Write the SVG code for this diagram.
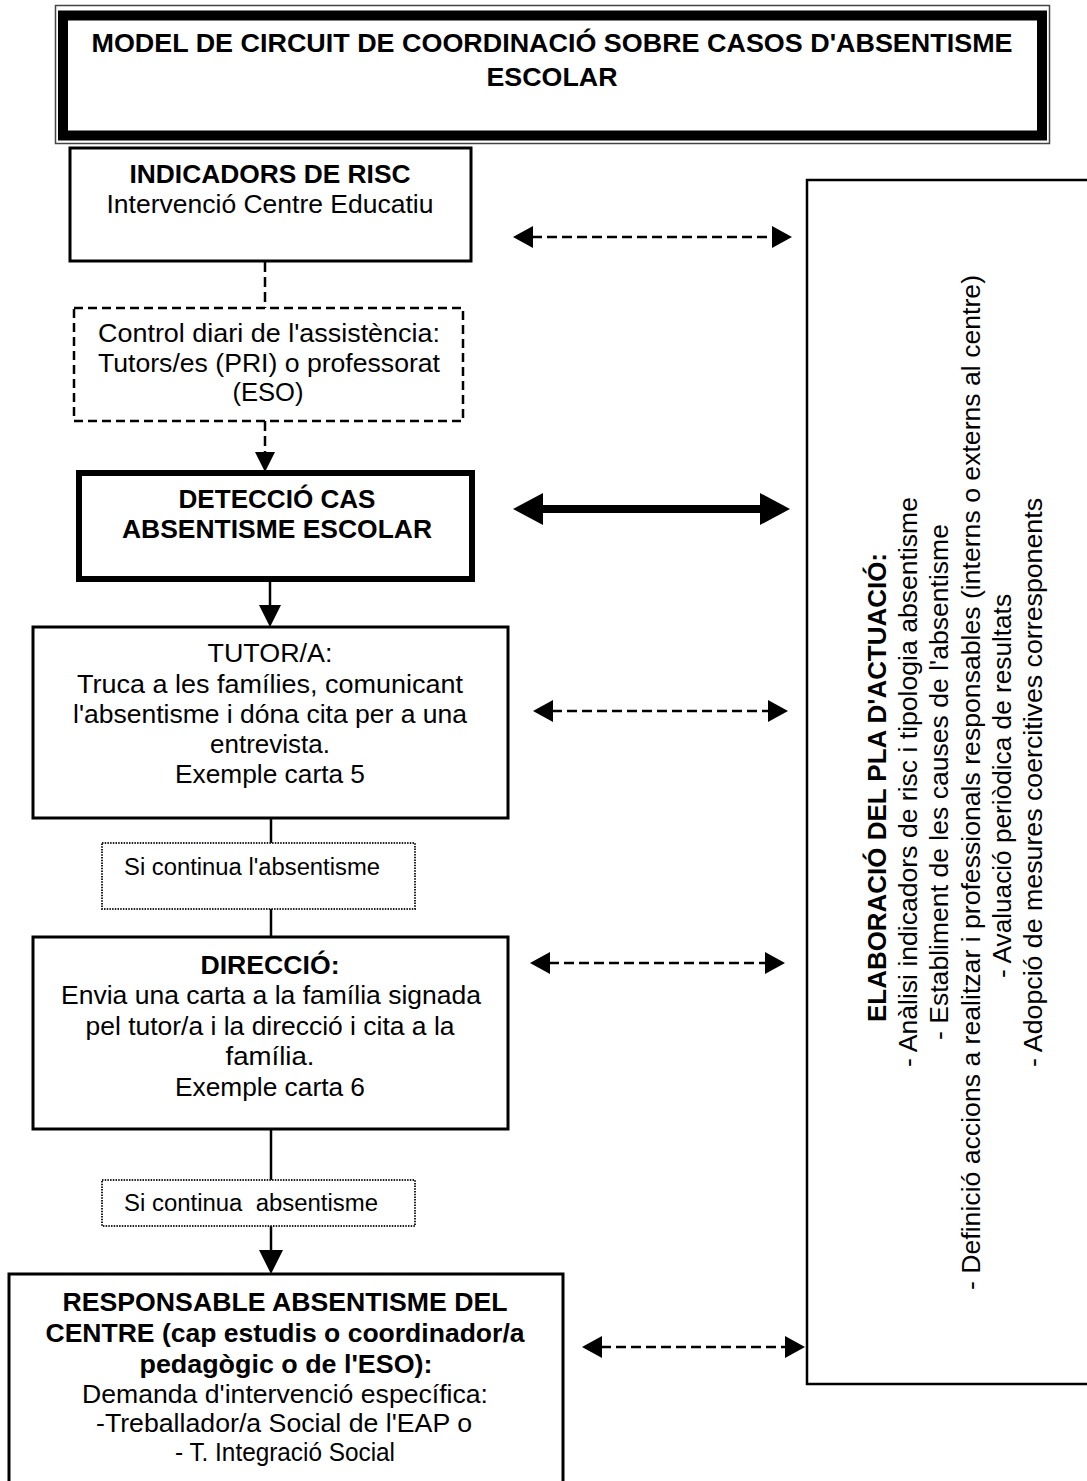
<svg xmlns="http://www.w3.org/2000/svg" width="1087" height="1481" viewBox="0 0 1087 1481">
<style>
  text { font-family: "Liberation Sans", Arial, sans-serif; fill: #000; }
  .t { font-size: 25px; text-anchor: middle; }
  .b { font-size: 25px; font-weight: bold; text-anchor: middle; }
  .s { font-size: 23px; }
  .v { font-size: 25px; }
  .vb { font-size: 25px; font-weight: bold; }
  .box { fill: #fff; stroke: #000; stroke-width: 3; }
  .dash { fill: none; stroke: #000; stroke-width: 2.5; stroke-dasharray: 9 5; }
  .dot { fill: #fff; stroke: #222; stroke-width: 2; stroke-dasharray: 1.5 1.2; }
  .ln { stroke: #000; stroke-width: 2.5; fill: none; }
  .dl { stroke: #000; stroke-width: 2.5; fill: none; stroke-dasharray: 10 5; }
  .hd { fill: #000; stroke: none; }
</style>
<rect width="1087" height="1481" fill="#fff"/>

<g id="connectors">
  <line class="dl" x1="265" y1="262" x2="265" y2="308"/>
  <line class="dl" x1="265" y1="421" x2="265" y2="453"/>
  <polygon class="hd" points="255,452 275,452 265,472"/>
  <line class="ln" x1="270" y1="579" x2="270" y2="606"/>
  <polygon class="hd" points="259,605 281,605 270,627"/>
  <line class="ln" x1="271" y1="818" x2="271" y2="843"/>
  <line class="ln" x1="271" y1="909" x2="271" y2="937"/>
  <line class="ln" x1="271" y1="1129" x2="271" y2="1180"/>
  <line class="ln" x1="271" y1="1226" x2="271" y2="1251"/>
  <polygon class="hd" points="259,1250 283,1250 271,1274"/>

  <line class="dl" x1="532" y1="237" x2="773" y2="237"/>
  <polygon class="hd" points="513,237 533,226 533,248"/>
  <polygon class="hd" points="792,237 772,226 772,248"/>

  <line stroke="#000" stroke-width="8" x1="540" y1="509" x2="763" y2="509"/>
  <polygon class="hd" points="513,509 543,493 543,525"/>
  <polygon class="hd" points="790,509 760,493 760,525"/>

  <line class="dl" x1="552" y1="711" x2="769" y2="711"/>
  <polygon class="hd" points="533,711 553,700 553,722"/>
  <polygon class="hd" points="788,711 768,700 768,722"/>

  <line class="dl" x1="549" y1="963" x2="766" y2="963"/>
  <polygon class="hd" points="530,963 550,952 550,974"/>
  <polygon class="hd" points="785,963 765,952 765,974"/>

  <line class="dl" x1="601" y1="1347" x2="786" y2="1347"/>
  <polygon class="hd" points="582,1347 602,1336 602,1358"/>
  <polygon class="hd" points="805,1347 785,1336 785,1358"/>
</g>

<g id="title">
  <rect x="55.5" y="5.5" width="994" height="138" fill="#fff" stroke="#444" stroke-width="1.5"/>
  <rect x="63" y="15.5" width="979" height="120" fill="none" stroke="#000" stroke-width="10"/>
  <text class="b" x="552" y="52" font-size="26" textLength="921" lengthAdjust="spacingAndGlyphs">MODEL DE CIRCUIT DE COORDINACIÓ SOBRE CASOS D'ABSENTISME</text>
  <text class="b" x="552" y="86" font-size="26" textLength="131" lengthAdjust="spacingAndGlyphs">ESCOLAR</text>
</g>

<g id="indicadors">
  <rect class="box" x="70" y="148" width="401" height="113"/>
  <text class="b" x="270" y="183" textLength="281" lengthAdjust="spacingAndGlyphs">INDICADORS DE RISC</text>
  <text class="t" x="270" y="213" textLength="327" lengthAdjust="spacingAndGlyphs">Intervenció Centre Educatiu</text>
</g>

<g id="control">
  <rect class="dash" x="74" y="308" width="389" height="113" fill="#fff"/>
  <text class="t" x="269" y="342" textLength="342" lengthAdjust="spacingAndGlyphs">Control diari de l'assistència:</text>
  <text class="t" x="269" y="372" textLength="342" lengthAdjust="spacingAndGlyphs">Tutors/es (PRI) o professorat</text>
  <text class="t" x="268" y="401" textLength="71" lengthAdjust="spacingAndGlyphs">(ESO)</text>
</g>

<g id="deteccio">
  <rect x="79" y="473" width="393" height="106" fill="#fff" stroke="#000" stroke-width="6"/>
  <text class="b" x="277" y="508" textLength="197" lengthAdjust="spacingAndGlyphs">DETECCIÓ CAS</text>
  <text class="b" x="277" y="538" textLength="310" lengthAdjust="spacingAndGlyphs">ABSENTISME ESCOLAR</text>
</g>

<g id="tutor">
  <rect class="box" x="33" y="627" width="475" height="191"/>
  <text class="t" x="270" y="662" textLength="125" lengthAdjust="spacingAndGlyphs">TUTOR/A:</text>
  <text class="t" x="270" y="693" textLength="386" lengthAdjust="spacingAndGlyphs">Truca a les famílies, comunicant</text>
  <text class="t" x="270" y="723" textLength="394" lengthAdjust="spacingAndGlyphs">l'absentisme i dóna cita per a una</text>
  <text class="t" x="270" y="753" textLength="120" lengthAdjust="spacingAndGlyphs">entrevista.</text>
  <text class="t" x="270" y="783" textLength="190" lengthAdjust="spacingAndGlyphs">Exemple carta 5</text>
</g>

<g id="si-continua-1">
  <rect class="dot" x="102" y="843" width="313" height="66"/>
  <text class="s" x="124" y="875" textLength="256" lengthAdjust="spacingAndGlyphs">Si continua l'absentisme</text>
</g>

<g id="direccio">
  <rect class="box" x="33" y="937" width="475" height="192"/>
  <text class="b" x="270" y="974" textLength="139" lengthAdjust="spacingAndGlyphs">DIRECCIÓ:</text>
  <text class="t" x="271" y="1004" textLength="420" lengthAdjust="spacingAndGlyphs">Envia una carta a la família signada</text>
  <text class="t" x="270" y="1035" textLength="369" lengthAdjust="spacingAndGlyphs">pel tutor/a i la direcció i cita a la</text>
  <text class="t" x="270" y="1065" textLength="89" lengthAdjust="spacingAndGlyphs">família.</text>
  <text class="t" x="270" y="1096" textLength="190" lengthAdjust="spacingAndGlyphs">Exemple carta 6</text>
</g>

<g id="si-continua-2">
  <rect class="dot" x="102" y="1180" width="313" height="46"/>
  <text class="s" x="124" y="1211" style="white-space:pre" textLength="254" lengthAdjust="spacingAndGlyphs">Si continua  absentisme</text>
</g>

<g id="responsable">
  <rect class="box" x="9" y="1274" width="554" height="220"/>
  <text class="b" x="285" y="1311" textLength="445" lengthAdjust="spacingAndGlyphs">RESPONSABLE ABSENTISME DEL</text>
  <text class="b" x="285" y="1342" textLength="479" lengthAdjust="spacingAndGlyphs">CENTRE (cap estudis o coordinador/a</text>
  <text class="b" x="286" y="1373" textLength="293" lengthAdjust="spacingAndGlyphs">pedagògic o de l'ESO):</text>
  <text class="t" x="285" y="1403" textLength="406" lengthAdjust="spacingAndGlyphs">Demanda d'intervenció específica:</text>
  <text class="t" x="284" y="1432" textLength="376" lengthAdjust="spacingAndGlyphs">-Treballador/a Social de l'EAP o</text>
  <text class="t" x="285" y="1461" font-size="21" textLength="220" lengthAdjust="spacingAndGlyphs">- T. Integració Social</text>
</g>

<g id="pla-actuacio">
  <rect x="807" y="180" width="300" height="1204" fill="#fff" stroke="#000" stroke-width="2.5"/>
  <text class="vb" transform="translate(886,1022) rotate(-90)" textLength="469" lengthAdjust="spacingAndGlyphs">ELABORACIÓ DEL PLA D'ACTUACIÓ:</text>
  <text class="v" transform="translate(917,1067) rotate(-90)" textLength="570" lengthAdjust="spacingAndGlyphs">- Anàlisi indicadors de risc i tipologia absentisme</text>
  <text class="v" transform="translate(948,1040) rotate(-90)" textLength="516" lengthAdjust="spacingAndGlyphs">- Establiment de les causes de l'absentisme</text>
  <text class="v" transform="translate(980,1290) rotate(-90)" textLength="1015" lengthAdjust="spacingAndGlyphs">- Definició accions a realitzar i professionals responsables (interns o externs al centre)</text>
  <text class="v" transform="translate(1011,978) rotate(-90)" textLength="384" lengthAdjust="spacingAndGlyphs">- Avaluació periòdica de resultats</text>
  <text class="v" transform="translate(1042,1067) rotate(-90)" textLength="569" lengthAdjust="spacingAndGlyphs">- Adopció de mesures coercitives corresponents</text>
</g>
</svg>
